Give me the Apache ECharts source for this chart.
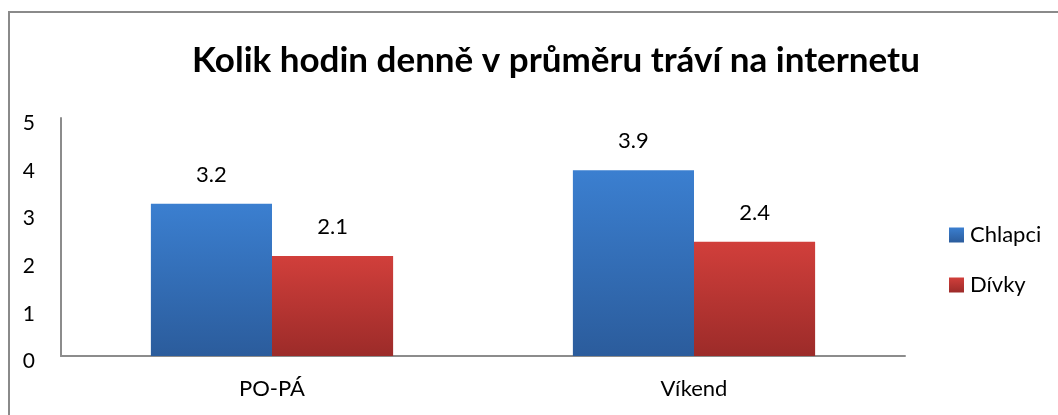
<!DOCTYPE html>
<html>
<head>
<meta charset="utf-8">
<script src="https://cdn.jsdelivr.net/npm/echarts@6/dist/echarts.min.js"></script>
<style>
  html, body { margin: 0; padding: 0; background: #fff; }
  #chart { width: 1058px; height: 415px; }
</style>
</head>
<body>
<div id="chart"></div>
<script>
  // data
  const categories = ['PO-PÁ', 'Víkend']
  const chlapci = [3.2, 3.9]
  const divky = [2.1, 2.4]
  const seriesNames = ['Chlapci', 'Dívky']

  const font = 'Lato, "Open Sans", sans-serif'

  function grad(top, bottom) {
    return new echarts.graphic.LinearGradient(0, 0, 0, 1, [
      { offset: 0, color: top },
      { offset: 1, color: bottom }
    ])
  }

  let myChart = echarts.init(document.getElementById('chart'), null, { renderer: 'canvas' })
  myChart.setOption({
    animation: false,
    textStyle: { fontFamily: font },
    title: {
      text: 'Kolik hodin denně v průměru tráví na internetu',
      left: 551,
      textAlign: 'center',
      top: 38,
      textStyle: { fontSize: 35, fontWeight: 'bold', color: '#000', fontFamily: font }
    },
    graphic: [{
      type: 'rect',
      shape: { x: 9, y: 12, width: 1200, height: 600 },
      style: { fill: null, stroke: '#8a8a8a', lineWidth: 2 },
      silent: true
    }],
    legend: {
      orient: 'vertical',
      left: 944,
      top: 219,
      itemWidth: 15,
      itemHeight: 15,
      itemGap: 28,
      icon: 'rect',
      textStyle: { fontSize: 22, color: '#000', fontFamily: font, padding: [0, 0, 0, 1] },
      data: seriesNames
    },
    grid: { left: 61, right: 153, top: 118, bottom: 59, containLabel: false },
    xAxis: {
      type: 'category',
      data: categories,
      axisLine: { lineStyle: { color: '#8c8c8c', width: 2 } },
      axisTick: { show: false },
      axisLabel: { fontSize: 22, color: '#000', margin: 22 }
    },
    yAxis: {
      type: 'value',
      min: 0,
      max: 5,
      interval: 1,
      axisLine: { show: true, lineStyle: { color: '#8c8c8c', width: 2 } },
      axisTick: { show: false },
      splitLine: { show: false },
      axisLabel: {
        fontSize: 21, color: '#000', margin: 26, align: 'right',
        verticalAlign: 'top', lineHeight: 21, padding: [-5, 0, 0, 0]
      }
    },
    series: [
      {
        name: seriesNames[0],
        type: 'bar',
        data: chlapci,
        barGap: '0%',
        barCategoryGap: '42.6%',
        itemStyle: { color: grad('#3b7fd0', '#2b5c9c') },
        label: { show: true, position: 'top', distance: 18, fontSize: 22, color: '#000' }
      },
      {
        name: seriesNames[1],
        type: 'bar',
        data: divky,
        itemStyle: { color: grad('#d13f3b', '#9c2b29') },
        label: { show: true, position: 'top', distance: 18, fontSize: 22, color: '#000' }
      }
    ]
  })
</script>
</body>
</html>
